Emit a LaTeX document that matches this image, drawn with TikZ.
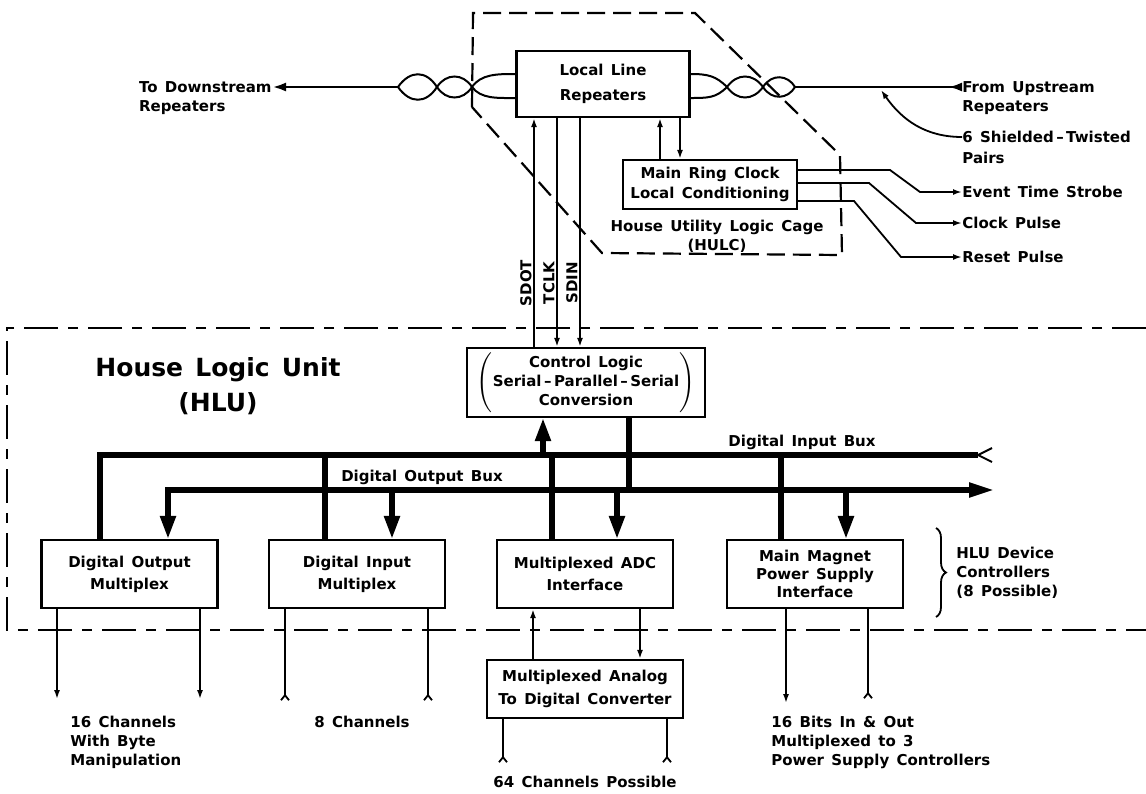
\documentclass[tikz,border=0pt]{standalone}
\usepackage{fontspec}
\setmainfont{DejaVu Sans}[WordSpace=1.4]
\usepackage{tikz}
\usetikzlibrary{arrows.meta, positioning, calc, decorations.pathreplacing}

\begin{document}
\begin{tikzpicture}[
    x=0.5pt, y=-0.5pt,
    module/.style={
        draw, line width=1.1pt, rectangle,
        minimum width=#1, minimum height=34pt,
        inner sep=1pt, align=center,
        font=\fontsize{7.5}{9.5}\selectfont\bfseries,
    },
    module/.default=88pt,
    lbl/.style={font=\fontsize{7.5}{9.5}\selectfont\bfseries, inner sep=0pt, align=left},
    wire/.style={line width=0.9pt},
    pair/.style={line width=1pt},
    bus/.style={line width=2.6pt},
    cage/.style={line width=1.1pt, dash pattern=on 9pt off 4pt},
    hluline/.style={line width=1.3pt, dash pattern=on 17pt off 5pt on 5pt off 5pt},
    tip/.style={-{Latex[length=4.5pt,width=3pt]}},
    bigtip/.style={-{Triangle[length=11.5pt,width=7.5pt]}},
    foot/.style={-{Straight Barb[reversed,length=2.5pt,width=4pt]}},
]
\useasboundingbox (0,0) rectangle (1146,793);

% house utility logic cage
\node[module=86.5pt, minimum height=33pt] (llr) at (603,84) {Local Line\\[3pt]Repeaters};
\node[module=87pt, minimum height=24.5pt] (mrc) at (710,184.5) {Main Ring Clock\\[0.5pt]Local Conditioning};
\draw[cage] (472,107) -- (473,13) -- (695,13) -- (840,155) -- (842,255) -- (602,253) -- cycle;
\node[lbl, align=center] (hulc) at (717,236) {House Utility Logic Cage\\(HULC)};

% twisted pairs
\coordinate (twl) at (398,87);
\coordinate (twr) at (795,87);
\draw[pair] (twl) .. controls (410,70) and (426,70) .. (437,87)
    .. controls (446,101) and (463,101) .. (472,87)
    .. controls (481,74) and (497,74) .. (llr.west |- 0,74);
\draw[pair] (twl) .. controls (410,104) and (426,104) .. (437,87)
    .. controls (446,73) and (463,73) .. (472,87)
    .. controls (481,99) and (497,98) .. (llr.west |- 0,98);
\draw[pair] (llr.east |- 0,74) .. controls (708,74) and (716,76) .. (727,87)
    .. controls (737,101) and (753,101) .. (763,87)
    .. controls (772,73) and (788,75) .. (twr);
\draw[pair] (llr.east |- 0,98) .. controls (708,98) and (716,98) .. (727,87)
    .. controls (737,73) and (753,73) .. (763,87)
    .. controls (772,101) and (788,99) .. (twr);

\node[lbl, anchor=north east] (dwn) at (272,81) {To Downstream\\Repeaters};
\draw[line width=1.4pt, -{Latex[length=7pt,width=4.5pt]}] (twl) -- (dwn.north east |- twl);
\node[lbl, anchor=north west] (ups) at (962,81) {From Upstream\\Repeaters};
\draw[line width=1.4pt, -{Latex[reversed,length=7pt,width=4.5pt]}] (twr) -- (ups.north west |- twr);
\node[lbl, anchor=north west] (shp) at (962,131) {6 Shielded\,--\,Twisted\\[1pt]Pairs};
\coordinate (tap) at (881,90);
\draw[wire, tip] (shp.west |- 0,137) to[out=180, in=-55] (tap);

% clock outputs
\node[lbl, anchor=west] (ets) at (962,192) {Event\ Time\ Strobe};
\node[lbl, anchor=west] (clk) at (962,223) {Clock Pulse};
\node[lbl, anchor=west] (rst) at (962,257) {Reset Pulse};
\draw[wire, tip] (mrc.east |- 0,170) -- (890,170) -- (920,192) -- (ets.west);
\draw[wire, tip] (mrc.east |- 0,183) -- (869,183) -- (916,223) -- (clk.west);
\draw[wire, tip] (mrc.east |- 0,201) -- (854,201) -- (901,257) -- (rst.west);
\draw[wire, tip] (mrc.north -| 660,0) -- (llr.south -| 660,0);
\draw[wire, tip] (llr.south -| 680,0) -- (mrc.north -| 680,0);

% house logic unit
\draw[hluline] (1146,328) -- (7,328) -- (7,630) -- (1146,630);
\node[font=\fontsize{12.5}{17.5}\selectfont\bfseries, align=center] (hlut) at (218,386) {House Logic Unit\\(HLU)};
\node[module=119pt, minimum height=34.5pt] (cl) at (586,382.5)
    {$\left(\begin{tabular}{@{}c@{}}Control Logic\\Serial\,--\,Parallel\,--\,Serial\\Conversion\end{tabular}\right)$};

\draw[wire, tip] (cl.north -| 534,0) -- (llr.south -| 534,0);
\draw[wire, tip] (llr.south -| 557,0) -- (cl.north -| 557,0);
\draw[wire, tip] (llr.south -| 580,0) -- (cl.north -| 580,0);
\node[lbl, rotate=90, anchor=south] (sdot) at (532,283) {SDOT};
\node[lbl, rotate=90, anchor=south] (tclk) at (555,283) {TCLK};
\node[lbl, rotate=90, anchor=south] (sdin) at (578,283) {SDIN};

% device controllers
\node[module] (dom) at (129.5,574) {Digital Output\\[1.5pt]Multiplex};
\node[module] (dim) at (357,574) {Digital Input\\[1.5pt]Multiplex};
\node[module] (madc) at (585,574) {Multiplexed ADC\\[1.5pt]Interface};
\node[module] (mmps) at (815,574) {Main Magnet\\[-0.5pt]Power Supply\\[-0.5pt]Interface};
\node[module=98pt, minimum height=29pt] (adc) at (585,689) {Multiplexed Analog\\[2pt]To Digital Converter};

% buses
\coordinate (ibl) at (100,455);
\coordinate (ibr) at (993,455);
\coordinate (obl) at (168,490);
\coordinate (obr) at (994,490);
\draw[bus, -{Straight Barb[reversed, length=7pt, width=7pt, line width=1pt]}]
    (dom.north -| ibl) -- (ibl) -- (ibr);
\draw[bus, {Triangle[length=11.5pt,width=7.5pt]}-{Triangle[length=12.5pt,width=7pt]}]
    (dom.north -| obl) -- (obl) -- (obr);
\node[lbl] (ibus) at (802,442) {Digital Input Bux};
\node[lbl] (obus) at (422,477) {Digital Output Bux};

\draw[bus, bigtip] (ibl -| 543,0) -- (cl.south -| 543,0);
\draw[bus] (cl.south -| 629,0) -- (obl -| 629,0);
\draw[bus] (dim.north -| 325,0) -- (ibl -| 325,0);
\draw[bus] (madc.north -| 552,0) -- (ibl -| 552,0);
\draw[bus] (mmps.north -| 781,0) -- (ibl -| 781,0);
\draw[bus, bigtip] (obl -| 392,0) -- (dim.north -| 392,0);
\draw[bus, bigtip] (obl -| 617,0) -- (madc.north -| 617,0);
\draw[bus, bigtip] (obl -| 846,0) -- (mmps.north -| 846,0);

% field connections
\draw[wire, tip] (dom.south -| 57,0) -- ++(0,90);
\draw[wire, tip] (dom.south -| 200,0) -- ++(0,90);
\draw[wire, foot] (dim.south -| 285,0) -- ++(0,92);
\draw[wire, foot] (dim.south -| 428,0) -- ++(0,92);
\draw[wire, tip] (adc.north -| 533,0) -- (madc.south -| 533,0);
\draw[wire, tip] (madc.south -| 640,0) -- (adc.north -| 640,0);
\draw[wire, foot] (adc.south -| 503,0) -- ++(0,44);
\draw[wire, foot] (adc.south -| 667,0) -- ++(0,44);
\draw[wire, tip] (mmps.south -| 786,0) -- ++(0,94);
\draw[wire, foot] (mmps.south -| 868,0) -- ++(0,90);

\draw[wire, decorate, decoration={brace, amplitude=5pt}] (936,528) -- (936,617);
\node[lbl, anchor=west] (hludev) at (956,573) {HLU Device\\Controllers\\(8 Possible)};

\node[lbl, anchor=north west] (ch16) at (70,716) {16 Channels\\With Byte\\Manipulation};
\node[lbl] (ch8) at (362,722) {8 Channels};
\node[lbl] (ch64) at (585,782) {64 Channels Possible};
\node[lbl, anchor=north west] (bits) at (771,716) {16 Bits In \& Out\\Multiplexed to 3\\Power Supply Controllers};

\end{tikzpicture}
\end{document}
